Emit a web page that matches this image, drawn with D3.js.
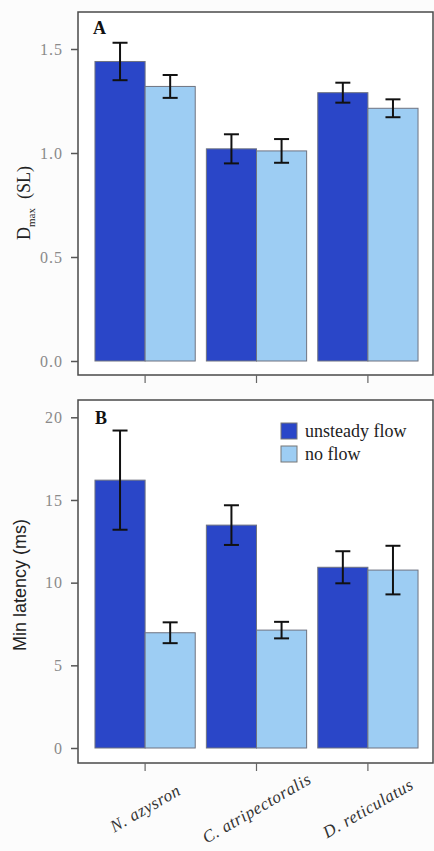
<!DOCTYPE html>
<html><head><meta charset="utf-8">
<script src="https://cdn.jsdelivr.net/npm/d3@7"></script>
<style>
html,body{margin:0;padding:0;background:#fcfcfc;}
svg{display:block;}
</style></head>
<body>
<script>
const categories = ["N. azysron", "C. atripectoralis", "D. reticulatus"];
const seriesNames = ["unsteady flow", "no flow"];
const dmaxUnsteady = [1.44, 1.02, 1.29];
const dmaxUnsteadyErr = [0.09, 0.07, 0.048];
const dmaxNoFlow = [1.32, 1.01, 1.215];
const dmaxNoFlowErr = [0.055, 0.057, 0.043];
const latUnsteady = [16.2, 13.48, 10.93];
const latUnsteadyErr = [3.0, 1.2, 0.97];
const latNoFlow = [6.97, 7.13, 10.76];
const latNoFlowErr = [0.63, 0.5, 1.47];
const dmaxTicks = [0, 0.5, 1.0, 1.5];
const latTicks = [0, 5, 10, 15, 20];
const colors = ["#2a46c8", "#9dcdf3"];

const W = 434, H = 851;
const svg = d3.select("body").append("svg").attr("width", W).attr("height", H);

const x0 = d3.scaleBand().domain(categories).range([89.4, 423.6]).paddingInner(0.1).paddingOuter(0.05);
const x1 = d3.scaleBand().domain(seriesNames).range([0, x0.bandwidth()]);
const color = d3.scaleOrdinal().domain(seriesNames).range(colors);

function panel(cfg) {
  const g = svg.append("g");
  const y = d3.scaleLinear().domain(cfg.domain).range(cfg.range);
  g.append("rect").attr("x", 78).attr("y", cfg.top).attr("width", 355).attr("height", cfg.bottom - cfg.top)
    .attr("fill", "#fff").attr("stroke", "#4a4a4a").attr("stroke-width", 1.5);
  const data = categories.map((c, i) => ({cat: c, vals: [
    {s: seriesNames[0], v: cfg.a[i], e: cfg.ae[i]},
    {s: seriesNames[1], v: cfg.b[i], e: cfg.be[i]}]}));
  const grp = g.selectAll("g.grp").data(data).join("g").attr("class", "grp")
    .attr("transform", d => `translate(${x0(d.cat)},0)`);
  grp.selectAll("rect").data(d => d.vals).join("rect")
    .attr("x", d => x1(d.s)).attr("width", x1.bandwidth())
    .attr("y", d => y(d.v)).attr("height", d => y(0) - y(d.v))
    .attr("fill", d => color(d.s)).attr("stroke", "#6f7380").attr("stroke-width", 1);
  const eb = grp.selectAll("g.eb").data(d => d.vals).join("g").attr("class", "eb")
    .attr("transform", d => `translate(${x1(d.s) + x1.bandwidth() / 2},0)`);
  eb.append("line").attr("x1", 0).attr("x2", 0).attr("y1", d => y(d.v + d.e)).attr("y2", d => y(d.v - d.e))
    .attr("stroke", "#111").attr("stroke-width", 2);
  eb.append("line").attr("x1", -7.5).attr("x2", 7.5).attr("y1", d => y(d.v + d.e)).attr("y2", d => y(d.v + d.e))
    .attr("stroke", "#111").attr("stroke-width", 2);
  eb.append("line").attr("x1", -7.5).attr("x2", 7.5).attr("y1", d => y(d.v - d.e)).attr("y2", d => y(d.v - d.e))
    .attr("stroke", "#111").attr("stroke-width", 2);
  const ya = g.append("g").attr("transform", "translate(78,0)")
    .call(d3.axisLeft(y).tickValues(cfg.ticks).tickFormat(cfg.fmt).tickSize(7).tickPadding(8));
  ya.select(".domain").remove();
  ya.selectAll(".tick line").attr("stroke", "#555").attr("stroke-width", 1.5);
  ya.selectAll(".tick text").attr("fill", "#8a8a8a").attr("font-family", "'Liberation Serif', serif")
    .attr("font-size", 16).attr("letter-spacing", 1);
  const xa = g.append("g").attr("transform", `translate(0,${cfg.bottom})`)
    .call(d3.axisBottom(x0).tickSize(8).tickFormat(""));
  xa.select(".domain").remove();
  xa.selectAll(".tick line").attr("stroke", "#666").attr("stroke-width", 1.2);
  g.append("text").attr("x", cfg.lx).attr("y", cfg.ly).text(cfg.letter)
    .attr("font-family", "'Liberation Serif', serif").attr("font-weight", "bold").attr("font-size", 18).attr("fill", "#111");
  return {g, y};
}

panel({domain: [0, 1.5], range: [361, 49], top: 12, bottom: 375, a: dmaxUnsteady, ae: dmaxUnsteadyErr,
  b: dmaxNoFlow, be: dmaxNoFlowErr, ticks: dmaxTicks, fmt: d3.format(".1f"), letter: "A", lx: 93, ly: 34});
panel({domain: [0, 20], range: [748, 417.3], top: 400, bottom: 763, a: latUnsteady, ae: latUnsteadyErr,
  b: latNoFlow, be: latNoFlowErr, ticks: latTicks, fmt: d3.format("d"), letter: "B", lx: 95, ly: 424});

const leg = svg.append("g").attr("transform", "translate(281,423)");
seriesNames.forEach((s, i) => {
  leg.append("rect").attr("x", 0).attr("y", i * 23).attr("width", 16).attr("height", 16)
    .attr("fill", color(s)).attr("stroke", "#777").attr("stroke-width", 1);
  leg.append("text").attr("x", 24).attr("y", i * 23 + 14).text(s)
    .attr("font-family", "'Liberation Serif', serif").attr("font-size", 18).attr("fill", "#222");
});

const t1 = svg.append("text").attr("transform", "translate(30,203) rotate(-90)").attr("text-anchor", "middle")
  .attr("font-family", "'Liberation Serif', serif").attr("font-size", 18).attr("fill", "#222");
t1.append("tspan").text("D");
t1.append("tspan").text("max").attr("font-size", 11).attr("dy", 5);
t1.append("tspan").text("\u00a0\u00a0(SL)").attr("dy", -5).attr("font-size", 18);

svg.append("text").attr("transform", "translate(26,585) rotate(-90)").attr("text-anchor", "middle")
  .attr("font-family", "'Liberation Sans', Arial, sans-serif").attr("font-size", 18).attr("fill", "#222")
  .text("Min latency (ms)");

svg.append("g").selectAll("text").data(categories).join("text")
  .attr("transform", d => `translate(${x0(d) + x0.bandwidth() / 2},808) rotate(-30)`)
  .attr("text-anchor", "middle").attr("dy", "0.35em")
  .attr("font-family", "'Liberation Serif', serif").attr("font-style", "italic").attr("font-size", 17)
  .attr("letter-spacing", 0.6).attr("fill", "#333").text(d => d);
</script>
</body></html>
